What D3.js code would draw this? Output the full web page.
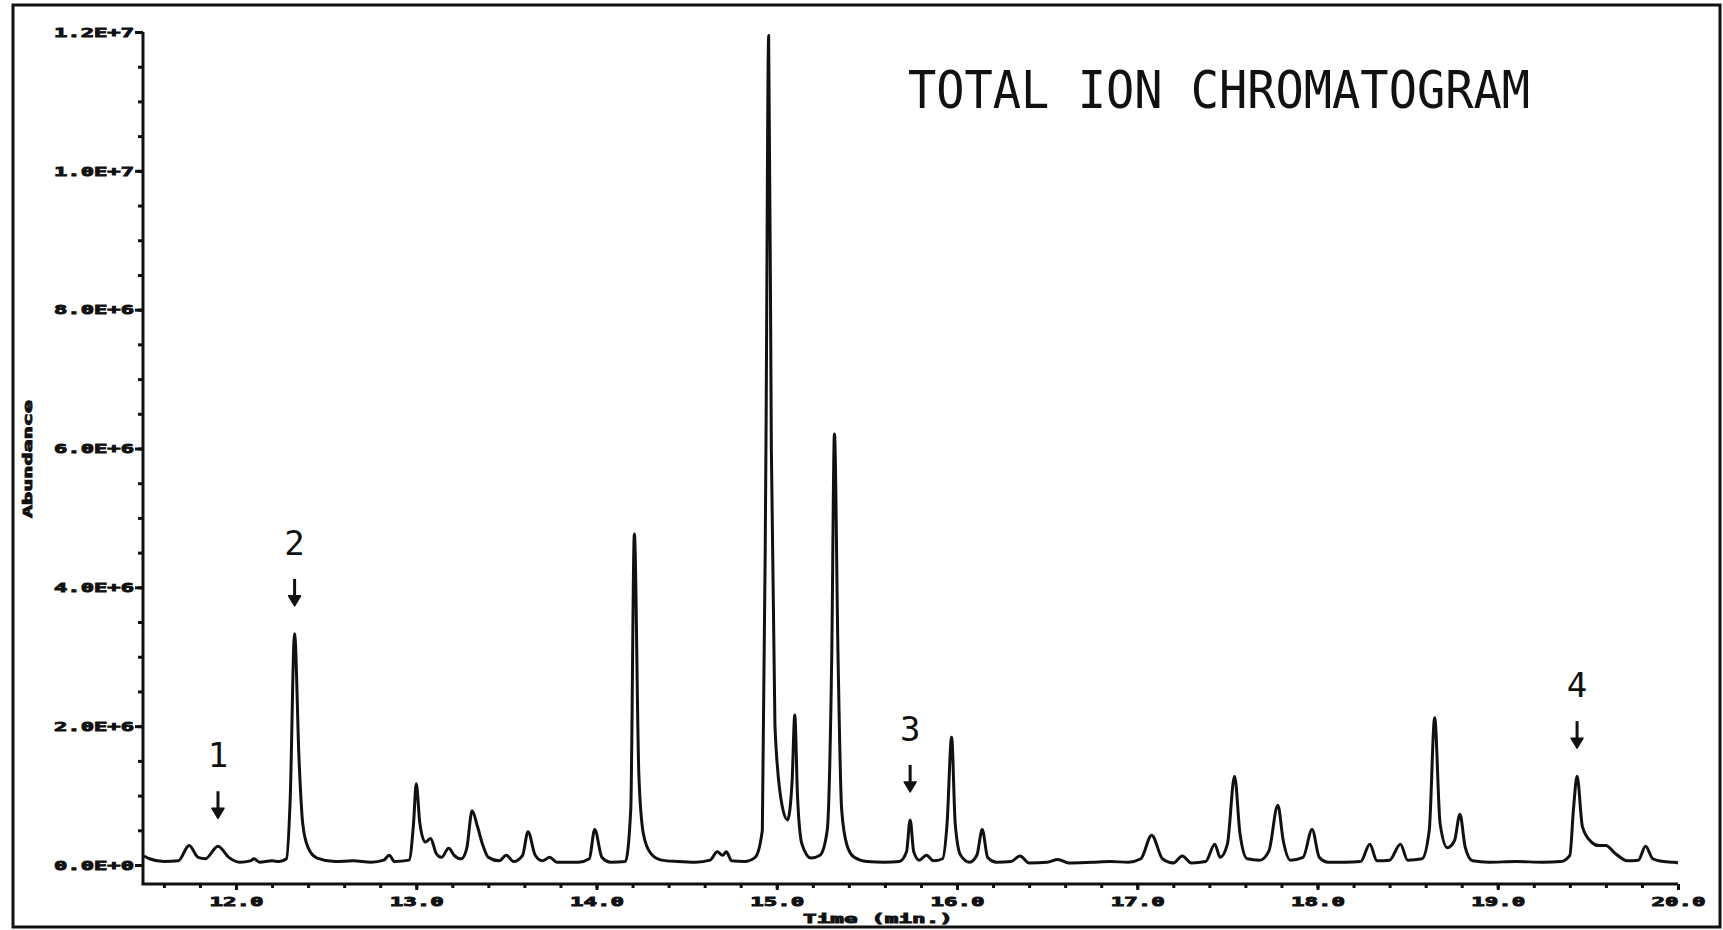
<!DOCTYPE html>
<html>
<head>
<meta charset="utf-8">
<script src="https://cdn.jsdelivr.net/npm/d3@7"></script>
<style>
    html, body { margin: 0; padding: 0; background: #fff; }
    #js-svg-container { width: 1723px; height: 930px; }
</style>
</head>
<body>
<div id="js-svg-container"></div>
<script>
// retention time (min) and abundance
const times = [
    11.49, 11.52, 11.60, 11.68, 11.74, 11.79, 11.83, 11.90, 11.96, 12.02,
    12.08, 12.10, 12.13, 12.20, 12.24, 12.28, 12.30, 12.325, 12.35, 12.37,
    12.40, 12.45, 12.55, 12.65, 12.75, 12.82, 12.85, 12.88, 12.96, 12.985,
    13.00, 13.02, 13.05, 13.08, 13.11, 13.14, 13.18, 13.21, 13.25, 13.28,
    13.31, 13.34, 13.37, 13.40, 13.46, 13.50, 13.54, 13.59, 13.62, 13.66,
    13.70, 13.74, 13.78, 13.90, 13.96, 13.99, 14.03, 14.08, 14.16, 14.19,
    14.21, 14.235, 14.26, 14.30, 14.36, 14.45, 14.55, 14.63, 14.67, 14.70,
    14.72, 14.75, 14.82, 14.88, 14.92, 14.94, 14.955, 14.97, 14.99, 15.03,
    15.06, 15.085, 15.10, 15.115, 15.14, 15.19, 15.24, 15.28, 15.305, 15.32,
    15.34, 15.36, 15.39, 15.43, 15.50, 15.60, 15.68, 15.72, 15.74, 15.76,
    15.79, 15.83, 15.87, 15.92, 15.945, 15.97, 15.99, 16.02, 16.07, 16.11,
    16.14, 16.17, 16.22, 16.30, 16.35, 16.40, 16.50, 16.56, 16.62, 16.75,
    16.85, 16.95, 17.02, 17.08, 17.14, 17.20, 17.25, 17.30, 17.38, 17.43,
    17.46, 17.50, 17.54, 17.57, 17.61, 17.68, 17.73, 17.78, 17.81, 17.85,
    17.92, 17.97, 18.01, 18.06, 18.15, 18.24, 18.29, 18.33, 18.40, 18.46,
    18.50, 18.58, 18.62, 18.65, 18.68, 18.72, 18.76, 18.79, 18.82, 18.86,
    18.95, 19.10, 19.25, 19.35, 19.40, 19.42, 19.44, 19.47, 19.52, 19.56,
    19.60, 19.65, 19.72, 19.78, 19.82, 19.86, 19.92, 19.98, 20.00
];

const abundance = [
    0.13e6, 0.09e6, 0.05e6, 0.06e6, 0.28e6, 0.11e6, 0.09e6, 0.27e6, 0.11e6, 0.04e6,
    0.06e6, 0.09e6, 0.04e6, 0.06e6, 0.05e6, 0.09e6, 0.9e6, 3.33e6, 1.5e6, 0.6e6,
    0.25e6, 0.10e6, 0.05e6, 0.06e6, 0.04e6, 0.07e6, 0.14e6, 0.05e6, 0.07e6, 0.6e6,
    1.17e6, 0.6e6, 0.33e6, 0.38e6, 0.17e6, 0.11e6, 0.24e6, 0.14e6, 0.09e6, 0.24e6,
    0.78e6, 0.55e6, 0.28e6, 0.11e6, 0.06e6, 0.14e6, 0.05e6, 0.14e6, 0.48e6, 0.14e6,
    0.06e6, 0.11e6, 0.04e6, 0.04e6, 0.09e6, 0.51e6, 0.11e6, 0.04e6, 0.05e6, 0.8e6,
    4.77e6, 1.3e6, 0.45e6, 0.17e6, 0.07e6, 0.05e6, 0.04e6, 0.07e6, 0.19e6, 0.14e6,
    0.19e6, 0.06e6, 0.05e6, 0.11e6, 0.5e6, 6.0e6, 11.95e6, 6.0e6, 2.0e6, 0.85e6,
    0.65e6, 1.2e6, 2.16e6, 1.0e6, 0.3e6, 0.10e6, 0.14e6, 0.5e6, 3.0e6, 6.21e6,
    3.0e6, 0.8e6, 0.28e6, 0.11e6, 0.05e6, 0.04e6, 0.05e6, 0.19e6, 0.65e6, 0.19e6,
    0.07e6, 0.14e6, 0.06e6, 0.09e6, 0.6e6, 1.84e6, 0.6e6, 0.14e6, 0.04e6, 0.14e6,
    0.51e6, 0.11e6, 0.04e6, 0.05e6, 0.13e6, 0.03e6, 0.04e6, 0.08e6, 0.03e6, 0.04e6,
    0.05e6, 0.04e6, 0.09e6, 0.43e6, 0.09e6, 0.03e6, 0.13e6, 0.03e6, 0.05e6, 0.30e6,
    0.11e6, 0.3e6, 1.28e6, 0.45e6, 0.09e6, 0.07e6, 0.2e6, 0.86e6, 0.35e6, 0.07e6,
    0.11e6, 0.51e6, 0.11e6, 0.04e6, 0.04e6, 0.05e6, 0.30e6, 0.06e6, 0.07e6, 0.30e6,
    0.07e6, 0.09e6, 0.5e6, 2.12e6, 0.6e6, 0.25e6, 0.35e6, 0.73e6, 0.25e6, 0.06e6,
    0.04e6, 0.05e6, 0.04e6, 0.05e6, 0.14e6, 0.8e6, 1.28e6, 0.55e6, 0.33e6, 0.28e6,
    0.28e6, 0.17e6, 0.06e6, 0.07e6, 0.27e6, 0.09e6, 0.05e6, 0.04e6, 0.03e6
];

const xTicks = [12, 13, 14, 15, 16, 17, 18, 19, 20];
const yTicks = [0, 2e6, 4e6, 6e6, 8e6, 10e6, 12e6];

const peakLabels = ['1', '2', '3', '4'];
const peakTimes = [11.90, 12.325, 15.74, 19.44];

const titleText = 'TOTAL ION CHROMATOGRAM';
const xLabel = 'Time (min.)';
const yLabel = 'Abundance';

document.addEventListener('DOMContentLoaded', function() {

    let width = 1723;
    let height = 930;

    let plot = {
        left: 143,
        right: 1678,
        top: 32,
        zero: 865,
        axisY: 884
    };

    let tickFont = "'DejaVu Sans Mono', monospace";

    let svg = d3.select('#js-svg-container')
        .append('svg')
        .attr('width', width)
        .attr('height', height);

    svg.append('rect')
        .attr('width', width)
        .attr('height', height)
        .attr('fill', '#fff');

    // scanned page frame
    svg.append('rect')
        .attr('x', 13)
        .attr('y', 5)
        .attr('width', 1707)
        .attr('height', 922)
        .attr('fill', 'none')
        .attr('stroke', '#111')
        .attr('stroke-width', 3);

    let x = d3.scaleLinear()
        .domain([11.484, 20.0])
        .range([plot.left, plot.right]);

    let y = d3.scaleLinear()
        .domain([0, 12e6])
        .range([plot.zero, plot.top]);

    let data = times.map((t, i) => { return { t: t, a: abundance[i] }; });

    // axes lines
    svg.append('path')
        .attr('d', 'M' + plot.left + ',' + y(12e6) + 'V' + plot.axisY + 'H' + plot.right)
        .attr('fill', 'none')
        .attr('stroke', '#111')
        .attr('stroke-width', 3);

    // y axis ticks
    let yMinor = svg.append('g')
        .attr('transform', 'translate(' + plot.left + ',0)')
        .call(d3.axisLeft(y).tickValues(d3.range(0, 12e6 + 1, 5e5)).tickSize(5).tickFormat(''));

    let yMajor = svg.append('g')
        .attr('transform', 'translate(' + plot.left + ',0)')
        .call(d3.axisLeft(y)
            .tickValues(yTicks)
            .tickSize(8)
            .tickPadding(1)
            .tickFormat(d => { return d3.format('.1e')(d).toUpperCase(); }));

    // x axis ticks
    let xMinor = svg.append('g')
        .attr('transform', 'translate(0,' + plot.axisY + ')')
        .call(d3.axisBottom(x).tickValues(d3.range(11.6, 20.01, 0.2)).tickSize(4).tickFormat(''));

    let xMajor = svg.append('g')
        .attr('transform', 'translate(0,' + plot.axisY + ')')
        .call(d3.axisBottom(x)
            .tickValues(xTicks)
            .tickSize(6)
            .tickPadding(7)
            .tickFormat(d3.format('.1f')));

    [yMinor, yMajor, xMinor, xMajor].forEach(g => {
        g.select('.domain').remove();
        g.selectAll('line').attr('stroke', '#111').attr('stroke-width', 3);
    });

    // the plotter labels are heavy and wide
    function blocky(sel, len) {
        sel.attr('font-family', tickFont)
            .attr('font-weight', 'bold')
            .attr('font-size', 13)
            .attr('fill', '#111')
            .attr('stroke', '#111')
            .attr('stroke-width', 0.9)
            .attr('textLength', len)
            .attr('lengthAdjust', 'spacingAndGlyphs');
    }

    blocky(yMajor.selectAll('text'), 80);
    blocky(xMajor.selectAll('text'), 54);

    svg.append('text')
        .attr('x', 878)
        .attr('y', 923)
        .attr('text-anchor', 'middle')
        .call(blocky, 150)
        .text(xLabel);

    svg.append('text')
        .attr('transform', 'translate(27,459) rotate(-90)')
        .attr('text-anchor', 'middle')
        .attr('dy', '0.35em')
        .call(blocky, 118)
        .text(yLabel);

    svg.append('text')
        .attr('x', 908)
        .attr('y', 108)
        .attr('font-family', tickFont)
        .attr('font-size', 52)
        .attr('fill', '#111')
        .attr('textLength', 622)
        .attr('lengthAdjust', 'spacingAndGlyphs')
        .text(titleText);

    // the trace
    let line = d3.line()
        .x(d => { return x(d.t); })
        .y(d => { return y(d.a); })
        .curve(d3.curveMonotoneX);

    svg.append('path')
        .datum(data)
        .attr('d', line)
        .attr('fill', 'none')
        .attr('stroke', '#111')
        .attr('stroke-width', 3)
        .attr('stroke-linejoin', 'round');

    // numbered peak arrows
    let notes = svg.selectAll('g.note')
        .data(peakLabels.map((l, i) => {
            let near = data.filter(d => { return Math.abs(d.t - peakTimes[i]) < 0.03; });
            return { label: l, t: peakTimes[i], top: d3.max(near, d => d.a) };
        }))
        .enter()
        .append('g')
        .attr('class', 'note')
        .attr('transform', d => {
            return 'translate(' + x(d.t) + ',' + (y(d.top) - 28) + ')';
        });

    notes.append('line')
        .attr('y1', -27)
        .attr('y2', -4)
        .attr('stroke', '#111')
        .attr('stroke-width', 3);

    notes.append('path')
        .attr('d', 'M-6,-10L0,0L6,-10Z')
        .attr('fill', '#111')
        .attr('stroke', '#111')
        .attr('stroke-width', 1.5)
        .attr('stroke-linejoin', 'round');

    notes.append('text')
        .attr('y', -51)
        .attr('text-anchor', 'middle')
        .attr('font-family', tickFont)
        .attr('font-size', 34)
        .attr('fill', '#111')
        .text(d => { return d.label; });
});
</script>
</body>
</html>
